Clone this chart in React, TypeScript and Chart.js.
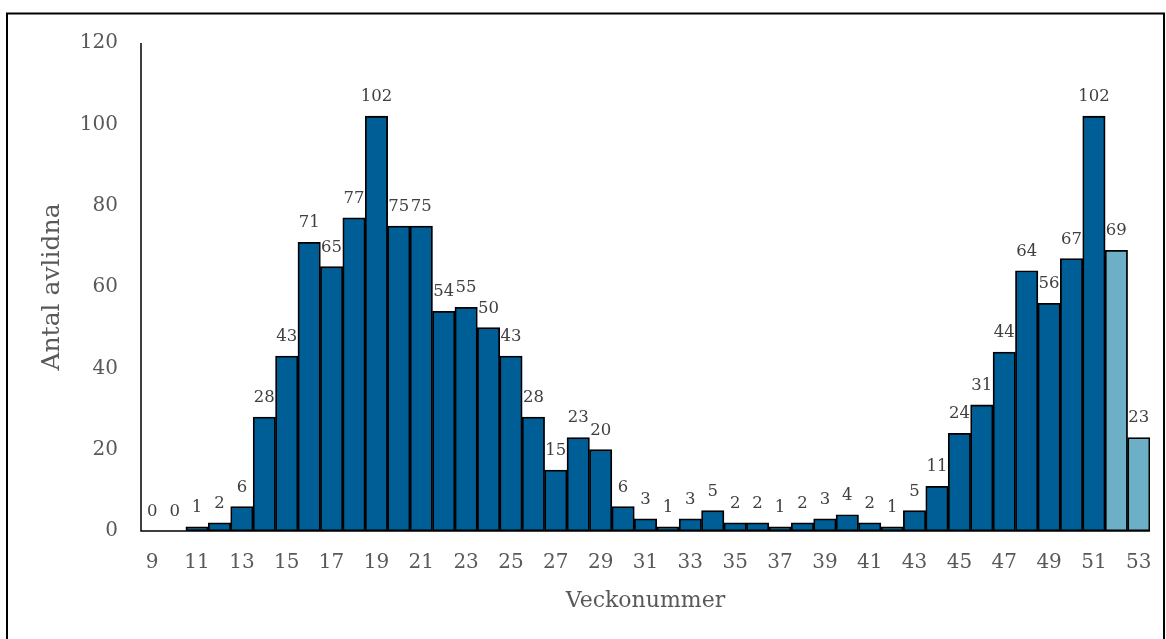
import React, { useEffect, useRef } from "react";
import { Chart, registerables } from "chart.js";

Chart.register(...registerables);

const weeks: string[] = [
  "9", "10", "11", "12", "13", "14", "15", "16", "17", "18", "19", "20", "21", "22", "23",
  "24", "25", "26", "27", "28", "29", "30", "31", "32", "33", "34", "35", "36", "37", "38",
  "39", "40", "41", "42", "43", "44", "45", "46", "47", "48", "49", "50", "51", "52", "53",
];
const deaths: number[] = [
  0, 0, 1, 2, 6, 28, 43, 71, 65, 77, 102, 75, 75, 54, 55,
  50, 43, 28, 15, 23, 20, 6, 3, 1, 3, 5, 2, 2, 1, 2,
  3, 4, 2, 1, 5, 11, 24, 31, 44, 64, 56, 67, 102, 69, 23,
];
// weeks whose figures are preliminary (lighter colour)
const preliminaryWeeks: string[] = ["52", "53"];
const yTicks: number[] = [0, 20, 40, 60, 80, 100, 120];

const DARK = "#005E97";
const LIGHT = "#6CAFC7";
const TEXT = "#595959";
const SERIF = "'DejaVu Serif', serif";

const frameAndLabels = {
  id: "frameAndLabels",
  beforeDraw(chart: any) {
    const ctx = chart.ctx;
    ctx.save();
    ctx.fillStyle = "#ffffff";
    ctx.fillRect(0, 0, chart.width, chart.height);
    ctx.strokeStyle = "#000000";
    ctx.lineWidth = 2;
    ctx.beginPath();
    ctx.moveTo(7, chart.height + 2);
    ctx.lineTo(7, 13.5);
    ctx.lineTo(1164, 13.5);
    ctx.lineTo(1164, chart.height + 2);
    ctx.stroke();
    ctx.restore();
  },
  afterDatasetsDraw(chart: any) {
    const ctx = chart.ctx;
    const meta = chart.getDatasetMeta(0);
    const data = chart.data.datasets[0].data as number[];
    ctx.save();
    ctx.font = "16.5px " + SERIF;
    ctx.fillStyle = "#404040";
    ctx.textAlign = "center";
    ctx.textBaseline = "bottom";
    meta.data.forEach((bar: any, i: number) => {
      ctx.fillText(String(data[i]), bar.x, bar.y - 11);
    });
    // axis lines
    const a = chart.chartArea;
    ctx.strokeStyle = "#000000";
    ctx.lineWidth = 1.5;
    ctx.beginPath();
    ctx.moveTo(a.left, a.top);
    ctx.lineTo(a.left, a.bottom);
    ctx.lineTo(a.right, a.bottom);
    ctx.stroke();
    ctx.restore();
  },
};

export default function App() {
  const ref = useRef<HTMLCanvasElement | null>(null);
  useEffect(() => {
    if (!ref.current) return;
    const colors = weeks.map((w) => (preliminaryWeeks.includes(w) ? LIGHT : DARK));
    const chart = new Chart(ref.current, {
      type: "bar",
      data: {
        labels: weeks,
        datasets: [
          {
            data: deaths,
            backgroundColor: colors,
            borderColor: "#000000",
            borderWidth: 1.8,
            borderSkipped: false,
            categoryPercentage: 1,
            barPercentage: 1,
          },
        ],
      },
      options: {
        animation: false,
        responsive: false,
        maintainAspectRatio: false,
        layout: { padding: { top: 43, right: 16, left: 0, bottom: 0 } },
        plugins: { legend: { display: false }, tooltip: { enabled: false } },
        scales: {
          x: {
            grid: { display: false, drawTicks: false },
            border: { display: false },
            ticks: {
              autoSkip: false,
              maxRotation: 0,
              padding: 20,
              color: TEXT,
              font: { family: SERIF, size: 20 },
              callback: function (_v: any, i: number) {
                return i % 2 === 0 ? weeks[i] : "";
              },
            },
            title: {
              display: true,
              text: "Veckonummer",
              color: TEXT,
              font: { family: SERIF, size: 22 },
              padding: { top: 0, bottom: 25 },
            },
            afterFit(scale: any) {
              scale.height = 108;
              scale.paddingLeft = 0;
              scale.paddingRight = 0;
            },
          },
          y: {
            min: 0,
            max: 120,
            afterBuildTicks(scale: any) {
              scale.ticks = yTicks.map((v) => ({ value: v }));
            },
            grid: { display: false, drawTicks: false },
            border: { display: false },
            ticks: {
              padding: 23,
              color: TEXT,
              font: { family: SERIF, size: 20 },
            },
            title: {
              display: true,
              text: "Antal avlidna",
              color: TEXT,
              font: { family: SERIF, size: 25 },
              padding: { top: 37, bottom: 0 },
            },
            afterFit(scale: any) {
              scale.width = 141;
              scale.paddingTop = 0;
              scale.paddingBottom = 0;
            },
          },
        },
      },
      plugins: [frameAndLabels],
    });
    return () => chart.destroy();
  }, []);
  return (
    <div style={{ position: "absolute", left: 0, top: 0, width: 1166, height: 639 }}>
      <canvas ref={ref} width={1166} height={639} style={{ display: "block" }} />
    </div>
  );
}
